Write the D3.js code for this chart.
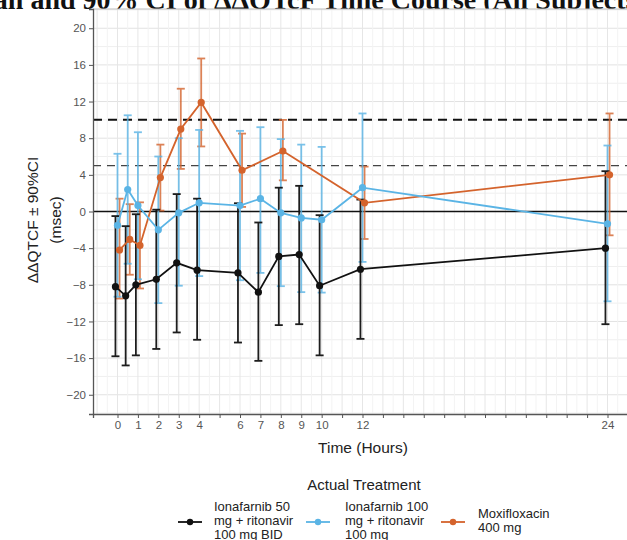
<!DOCTYPE html>
<html><head><meta charset="utf-8">
<script src="https://cdn.jsdelivr.net/npm/d3@7"></script>
<style>body{margin:0;background:#fff;} svg{display:block;}</style>
</head><body>
<svg id="chart" width="627" height="540"></svg>
<script>
// ---- data ----
const timesIon = [0, 0.5, 1, 2, 3, 4, 6, 7, 8, 9, 10, 12, 24];
const ion50Mean  = [-8.2, -9.2, -8.0, -7.4, -5.6, -6.4, -6.7, -8.8, -4.9, -4.7, -8.1, -6.3, -4.0];
const ion50Lower = [-15.8, -16.8, -15.7, -15.0, -13.2, -14.0, -14.3, -16.3, -12.4, -12.3, -15.7, -13.9, -12.3];
const ion50Upper = [-0.5, -1.6, -0.3, 0.2, 1.9, 1.4, 0.9, -1.2, 2.6, 2.8, -0.4, 1.3, 4.4];
const ion100Mean  = [-1.5, 2.4, 0.65, -2.0, -0.15, 0.95, 0.65, 1.4, -0.15, -0.7, -0.9, 2.6, -1.35];
const ion100Upper = [6.3, 10.5, 8.65, 6.0, 8.0, 8.9, 8.8, 9.2, 7.9, 7.3, 7.05, 10.7, 7.2];
const ion100Lower = [-9.3, -5.7, -7.4, -10.0, -8.1, -7.05, -7.5, -6.7, -8.15, -8.8, -8.85, -5.5, -9.8];
const timesMoxi = [0, 0.5, 1, 2, 3, 4, 6, 8, 12, 24];
const moxiMean  = [-4.2, -3.05, -3.7, 3.7, 9.0, 11.9, 4.5, 6.6, 0.95, 4.0];
const moxiUpper = [1.4, 0.8, 1.0, 7.3, 13.4, 16.7, 8.5, 10.0, 4.9, 10.7];
const moxiLower = [-9.5, -6.9, -8.4, 0.1, 4.65, 7.1, 0.5, 3.4, -3.0, -2.6];
const seriesNames = ["Ionafarnib 50 mg + ritonavir 100 mg BID", "Ionafarnib 100 mg + ritonavir 100 mg", "Moxifloxacin 400 mg"];
const legendLines = [["Ionafarnib 50", "mg + ritonavir", "100 mg BID"], ["Ionafarnib 100", "mg + ritonavir", "100 mg"], ["Moxifloxacin", "400 mg"]];
const seriesColors = ["#111111", "#5AB4E5", "#D4632C"];
const dodge = [-0.1, 0, 0.1];
const xTickValues = d3.range(0, 25);
const xTickLabels = [0, 1, 2, 3, 4, 6, 7, 8, 9, 10, 12, 24];
const yTickValues = [-20, -16, -12, -8, -4, 0, 4, 8, 12, 16, 20];
const refLines = [10, 5];
const titleText = "Mean and 90% CI of ΔΔQTcF Time Course (All Subjects)";

const series = [
  {name: seriesNames[0], t: timesIon, m: ion50Mean, lo: ion50Lower, hi: ion50Upper},
  {name: seriesNames[1], t: timesIon, m: ion100Mean, lo: ion100Lower, hi: ion100Upper},
  {name: seriesNames[2], t: timesMoxi, m: moxiMean, lo: moxiLower, hi: moxiUpper}
].map((s, i) => ({...s, color: seriesColors[i], dx: dodge[i],
  pts: s.t.map((t, j) => ({t, m: s.m[j], lo: s.lo[j], hi: s.hi[j]}))}));

const svg = d3.select("#chart");
const L = 93, R = 632, T = 9, B = 414;
const x = d3.scaleLinear().domain([-1.2, 25.2]).range([L, R]);
const y = d3.scaleLinear().domain([-22.1, 22.1]).range([B, T]);
const sans = "Liberation Sans, Arial, sans-serif";

// title (cropped at top)
svg.append("text").attr("x", -45).attr("y", 9)
  .attr("font-family", "Liberation Serif, serif").attr("font-weight", "bold")
  .attr("font-size", 28).attr("fill", "#111").text(titleText);

svg.append("defs").append("clipPath").attr("id", "pc")
  .append("rect").attr("x", L).attr("y", T).attr("width", R - L).attr("height", B - T);

const g = svg.append("g").attr("clip-path", "url(#pc)");
g.append("rect").attr("x", L).attr("y", T).attr("width", R - L).attr("height", B - T).attr("fill", "#fff");
// grid
g.selectAll(".hg").data(d3.range(-22, 23, 2)).join("line")
  .attr("x1", L).attr("x2", R).attr("y1", d => y(d)).attr("y2", d => y(d))
  .attr("stroke", d => d % 4 === 0 ? "#e2e2e2" : "#efefef").attr("stroke-width", 1);
g.selectAll(".vg").data(d3.range(-1, 26, 1)).join("line")
  .attr("y1", T).attr("y2", B).attr("x1", d => x(d)).attr("x2", d => x(d))
  .attr("stroke", "#e6e6e6").attr("stroke-width", 1);
g.selectAll(".vg2").data(d3.range(-0.5, 25.5, 1)).join("line")
  .attr("y1", T).attr("y2", B).attr("x1", d => x(d)).attr("x2", d => x(d))
  .attr("stroke", "#f3f3f3").attr("stroke-width", 1);

// reference lines
g.append("line").attr("x1", L).attr("x2", R).attr("y1", y(refLines[0])).attr("y2", y(refLines[0]))
  .attr("stroke", "#111").attr("stroke-width", 2).attr("stroke-dasharray", "9,6");
g.append("line").attr("x1", L).attr("x2", R).attr("y1", y(refLines[1])).attr("y2", y(refLines[1]))
  .attr("stroke", "#444").attr("stroke-width", 1.3).attr("stroke-dasharray", "8,6");
g.append("line").attr("x1", L).attr("x2", R).attr("y1", y(0)).attr("y2", y(0))
  .attr("stroke", "#111").attr("stroke-width", 1.6);

// error bars
const drawOrder = [2, 1, 0];
drawOrder.forEach(i => {
  const s = series[i];
  const eb = g.append("g").attr("stroke", s.color).attr("stroke-width", 1.8).attr("opacity", i === 0 ? 0.95 : 0.8);
  s.pts.forEach(p => {
    const cx = x(p.t + s.dx);
    eb.append("line").attr("x1", cx).attr("x2", cx).attr("y1", y(p.lo)).attr("y2", y(p.hi));
    eb.append("line").attr("x1", cx - 4).attr("x2", cx + 4).attr("y1", y(p.lo)).attr("y2", y(p.lo));
    eb.append("line").attr("x1", cx - 4).attr("x2", cx + 4).attr("y1", y(p.hi)).attr("y2", y(p.hi));
  });
});
// lines + points
const line = d3.line().x(d => d.x).y(d => y(d.m));
drawOrder.forEach(i => {
  const s = series[i];
  const data = s.pts.map(p => ({x: x(p.t + s.dx), m: p.m}));
  g.append("path").datum(data).attr("d", line).attr("fill", "none")
    .attr("stroke", s.color).attr("stroke-width", 1.8);
  g.selectAll(null).data(data).join("circle").attr("cx", d => d.x).attr("cy", d => y(d.m))
    .attr("r", 3.6).attr("fill", s.color);
});

// panel top border
svg.append("line").attr("x1", L).attr("x2", R).attr("y1", T).attr("y2", T).attr("stroke", "#bdbdbd");

// axes
const xAxis = d3.axisBottom(x).tickValues(xTickValues).tickSize(4).tickPadding(3)
  .tickFormat(d => xTickLabels.includes(d) ? d : "");
const xa = svg.append("g").attr("transform", `translate(0,${B})`).call(xAxis);
xa.select(".domain").attr("stroke", "#555").attr("stroke-width", 1.3);
xa.selectAll(".tick line").attr("stroke", "#555");
xa.selectAll("text").attr("font-family", sans).attr("font-size", 11.5).attr("fill", "#555");

const yAxis = d3.axisLeft(y).tickValues(yTickValues).tickSize(4).tickPadding(3);
const ya = svg.append("g").attr("transform", `translate(${L},0)`).call(yAxis);
ya.select(".domain").attr("stroke", "#555").attr("stroke-width", 1.3);
ya.selectAll(".tick line").attr("stroke", "#555");
ya.selectAll("text").attr("font-family", sans).attr("font-size", 11.5).attr("fill", "#555");

// axis titles
svg.append("text").attr("x", 363).attr("y", 453).attr("text-anchor", "middle")
  .attr("font-family", sans).attr("font-size", 15.5).attr("fill", "#222")
  .text("Time (Hours)");
const yt = svg.append("text").attr("transform", "translate(0,220) rotate(-90)")
  .attr("text-anchor", "middle").attr("font-family", sans)
  .attr("font-size", 15.5).attr("fill", "#222");
yt.append("tspan").attr("x", 0).attr("y", 38).text("ΔΔQTCF ± 90%CI");
yt.append("tspan").attr("x", 0).attr("y", 61).text("(msec)");

// legend
svg.append("text").attr("x", 364).attr("y", 490).attr("text-anchor", "middle")
  .attr("font-family", sans).attr("font-size", 15).attr("fill", "#222")
  .text("Actual Treatment");
const legendKeyX = [178, 306, 441];
const legendLabelX = [214, 345, 478];
series.forEach((s, i) => {
  const lg = svg.append("g");
  const ky = 522;
  lg.append("line").attr("x1", legendKeyX[i]).attr("x2", legendKeyX[i] + 24).attr("y1", ky).attr("y2", ky)
    .attr("stroke", s.color).attr("stroke-width", 1.8);
  lg.append("circle").attr("cx", legendKeyX[i] + 12).attr("cy", ky).attr("r", 3.2).attr("fill", s.color);
  const lines = legendLines[i];
  const startY = lines.length === 3 ? 511 : 518;
  const tx = lg.append("text").attr("font-family", sans)
    .attr("font-size", 13).attr("fill", "#222");
  lines.forEach((ln, k) => tx.append("tspan").attr("x", legendLabelX[i]).attr("y", startY + k * 14).text(ln));
});
</script>
</body></html>
